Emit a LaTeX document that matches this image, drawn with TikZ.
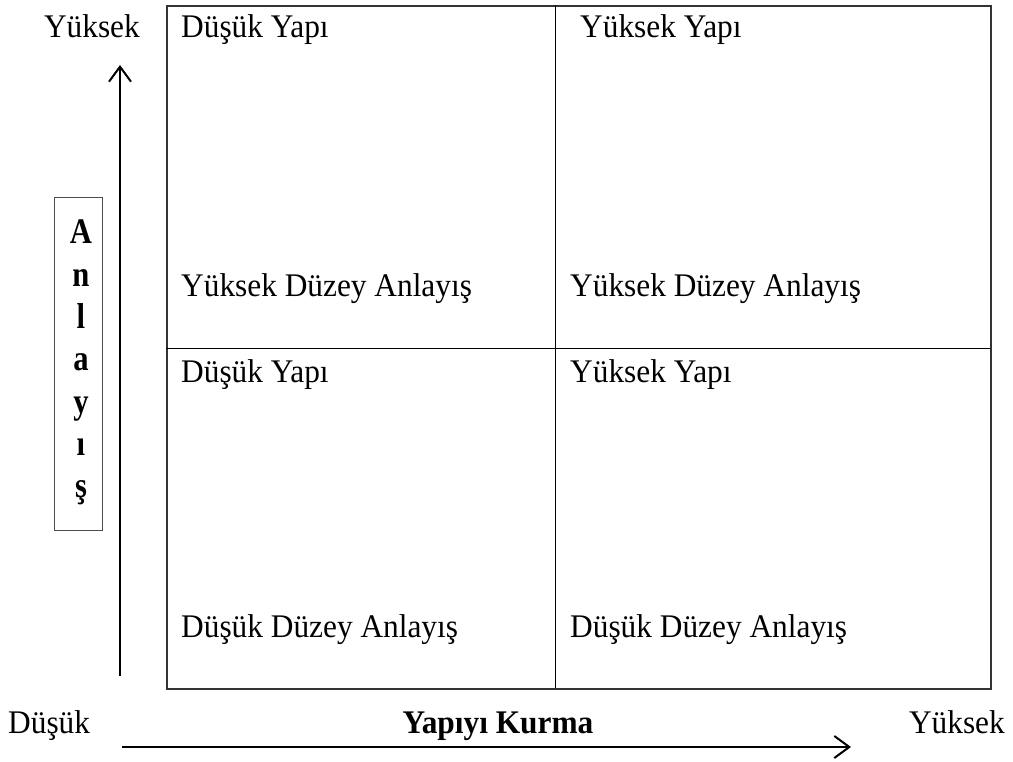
\documentclass[tikz,border=0pt]{standalone}
\usepackage{fontspec}
\usepackage{graphicx}
\setmainfont{Liberation Serif}
\usetikzlibrary{arrows.meta}
\newcommand{\sqz}[1]{\scalebox{0.95}[1]{#1}}
\newcommand{\sqv}[1]{\scalebox{0.85}[1]{#1}}
\begin{document}
\begin{tikzpicture}[x=1pt,y=-1pt,
  lbl/.style={anchor=base west,inner sep=0pt,font=\fontsize{33}{36}\selectfont},
  vletter/.style={anchor=base,inner sep=0pt,font=\fontsize{36}{40}\selectfont\bfseries},
  outer/.style={draw=black!80,line width=1.8pt},
  inner/.style={draw=black,line width=1pt},
  axis/.style={line width=1.8pt,-{Straight Barb[length=15pt,width=22pt,line width=2pt]}}]
\useasboundingbox (0,0) rectangle (1013,762);
% grid
\node[outer,inner sep=0pt,minimum width=824pt,minimum height=683pt,anchor=north west] (grid) at (166,5) {};
\coordinate (mt) at (555,5); \coordinate (mb) at (555,688);
\coordinate (ml) at (166,349); \coordinate (mr) at (990,349);
\draw[inner] (mt) -- (mb);
\draw[inner] (ml) -- (mr);
% cell texts
\node[lbl] (t1) at (181,38) {\sqz{Düşük Yapı}};
\node[lbl] (t2) at (580,38) {\sqz{Yüksek Yapı}};
\node[lbl] (t3) at (181,297) {\sqz{Yüksek Düzey Anlayış}};
\node[lbl] (t4) at (570,297) {\sqz{Yüksek Düzey Anlayış}};
\node[lbl] (t5) at (181,382) {\sqz{Düşük Yapı}};
\node[lbl] (t6) at (570,382) {\sqz{Yüksek Yapı}};
\node[lbl] (t7) at (181,637) {\sqz{Düşük Düzey Anlayış}};
\node[lbl] (t8) at (570,637) {\sqz{Düşük Düzey Anlayış}};
% axis labels
\node[lbl,anchor=base east] (yhigh) at (140,38) {\sqz{Yüksek}};
\node[lbl] (xlow) at (8,733) {\sqz{Düşük}};
\node[lbl,anchor=base east] (xhigh) at (1005,733) {\sqz{Yüksek}};
\node[anchor=base,inner sep=0pt,font=\fontsize{33}{36}\selectfont\bfseries] (xlab) at (498,733) {\sqz{Yapıyı Kurma}};
% vertical label box
\node[draw=black!70,line width=1pt,minimum width=48pt,minimum height=333pt,anchor=north west,inner sep=0pt] (vbox) at (54,197) {};
\foreach \c [count=\i from 0] in {A,n,l,a,y,ı,ş}
  \node[vletter] (v\i) at (81,244+42.3*\i) {\sqv{\c}};
% arrows
\coordinate (va) at (120,676); \coordinate (vb) at (120,65);
\draw[axis] (va) -- (vb);
\coordinate (ha) at (122,747); \coordinate (hb) at (851,747);
\draw[axis] (ha) -- (hb);
\end{tikzpicture}
\end{document}
